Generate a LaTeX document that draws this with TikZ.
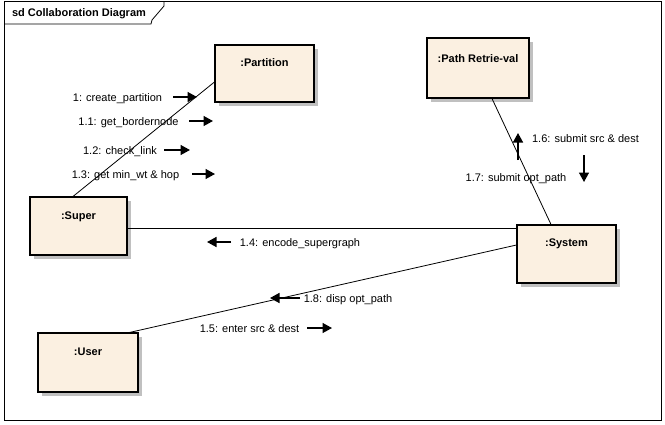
\documentclass[tikz,border=0pt]{standalone}
\usepackage{fontspec}
\setmainfont{Liberation Sans}
\usetikzlibrary{arrows.meta,shadows}
\definecolor{boxfill}{HTML}{FBF0E1}
\definecolor{shadowgray}{HTML}{C0C0C0}
\begin{document}
\begin{tikzpicture}[x=1pt,y=-1pt,
  obj/.style={draw=black,line width=1.1pt,fill=boxfill,inner sep=0pt,
    general shadow={fill=shadowgray,shadow xshift=4pt,shadow yshift=-4pt}},
  objlabel/.style={font=\fontsize{11}{13}\selectfont\bfseries,inner sep=0pt,
    text height=8pt,text depth=0pt},
  msg/.style={font=\fontsize{11}{13}\selectfont,inner sep=0pt,
    text height=8pt,text depth=0pt},
  link/.style={line width=0.8pt},
  msgarrow/.style={line width=1.5pt,-{Triangle[length=9.5pt,width=10pt]}}]
\useasboundingbox (0,0) rectangle (665,424);
% frame
\draw[line width=0.8pt] (4,1) rectangle (661,420);
\draw[line width=0.8pt] (4,24) -- (151,24) -- (152,20) -- (164,6) -- (164,1);
\node[font=\fontsize{11}{12}\selectfont\bfseries,inner sep=0pt,text height=8pt,text depth=0pt] (title) at (79,12) {sd Collaboration Diagram};
% objects
\node[obj,minimum width=99pt,minimum height=57pt] (part) at (264.5,73.5) {};
\node[obj,minimum width=102pt,minimum height=60pt] (path) at (478,68) {};
\node[obj,minimum width=97pt,minimum height=58pt] (super) at (78.5,226) {};
\node[obj,minimum width=99pt,minimum height=58pt] (sys) at (566.5,254) {};
\node[obj,minimum width=100pt,minimum height=59pt] (user) at (88,362.5) {};
\node[objlabel] (partl) at ([yshift=-18pt]part.north) {:Partition};
\node[objlabel] (pathl) at ([yshift=-21pt]path.north) {:Path Retrie-val};
\node[objlabel] (superl) at ([yshift=-19pt]super.north) {:Super};
\node[objlabel] (sysl) at ([yshift=-18pt]sys.north) {:System};
\node[objlabel] (userl) at ([yshift=-19pt]user.north) {:User};
% links
\draw[link] ([xshift=-5.5pt]super.north) -- ([yshift=-8.5pt]part.west);
\draw[link] ([xshift=14pt]path.south) -- ([xshift=-15.5pt]sys.north);
\draw[link] ([yshift=-2pt]super.east) -- ([yshift=26pt]sys.west);
\draw[link] ([xshift=41.5pt]user.north) -- ([yshift=9pt]sys.west);
% messages
\node[msg] (m1) at (117.5,97) {1: create\_partition};
\coordinate (m1a) at (173,97); \coordinate (m1b) at (197,97);
\draw[msgarrow] (m1a) -- (m1b);
\node[msg] (m11) at (128.5,121) {1.1: get\_bordernode};
\coordinate (m11a) at (189,121); \coordinate (m11b) at (213,121);
\draw[msgarrow] (m11a) -- (m11b);
\node[msg] (m12) at (120,150) {1.2: check\_link};
\coordinate (m12a) at (164,150); \coordinate (m12b) at (190,150);
\draw[msgarrow] (m12a) -- (m12b);
\node[msg] (m13) at (125.5,174) {1.3: get min\_wt \& hop};
\coordinate (m13a) at (192,174); \coordinate (m13b) at (215,174);
\draw[msgarrow] (m13a) -- (m13b);
\node[msg] (m14) at (300,242) {1.4: encode\_supergraph};
\coordinate (m14a) at (231,242); \coordinate (m14b) at (207,242);
\draw[msgarrow] (m14a) -- (m14b);
\node[msg] (m18) at (348,298) {1.8: disp opt\_path};
\coordinate (m18a) at (300,298); \coordinate (m18b) at (270,298);
\draw[msgarrow] (m18a) -- (m18b);
\node[msg] (m15) at (249.5,328) {1.5: enter src \& dest};
\coordinate (m15a) at (307,328); \coordinate (m15b) at (332,328);
\draw[msgarrow] (m15a) -- (m15b);
\node[msg] (m16) at (585.5,138) {1.6: submit src \& dest};
\coordinate (m16a) at (518,160); \coordinate (m16b) at (518,133);
\draw[msgarrow] (m16a) -- (m16b);
\node[msg] (m17) at (516,177) {1.7: submit opt\_path};
\coordinate (m17a) at (584,155); \coordinate (m17b) at (584,182);
\draw[msgarrow] (m17a) -- (m17b);
\end{tikzpicture}
\end{document}
